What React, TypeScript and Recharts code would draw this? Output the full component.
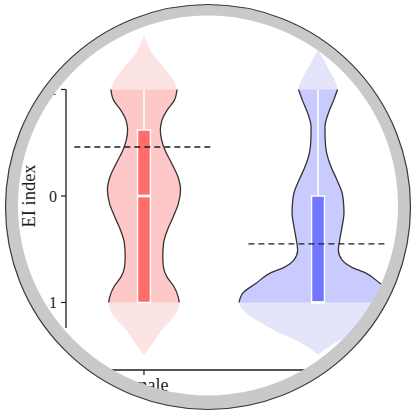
import React from 'react';
import { ComposedChart, Area, XAxis, YAxis, ReferenceLine, ReferenceArea } from 'recharts';

// Groups on the horizontal axis (positions 1 and 2)
const groups = ['female', 'male'];
const eiTicks = [-1, 0, 1];

// Violin outlines: EI index grid and kernel half-width (in group-axis units)
const femaleEI = [-1.51, -1.44, -1.34, -1.25, -1.16, -1.06, -1.0, -0.9, -0.81, -0.71, -0.62, -0.53, -0.43, -0.31, -0.18, -0.06, 0.07, 0.2, 0.32, 0.44, 0.57, 0.67, 0.76, 0.85, 0.95, 1.0, 1.07, 1.16, 1.26, 1.35, 1.42, 1.49];
const femaleHalf = [0, 0.017, 0.046, 0.092, 0.138, 0.178, 0.19, 0.175, 0.135, 0.103, 0.094, 0.101, 0.121, 0.158, 0.195, 0.21, 0.198, 0.167, 0.135, 0.113, 0.108, 0.112, 0.132, 0.172, 0.197, 0.203, 0.195, 0.158, 0.101, 0.063, 0.034, 0];
const maleEI = [-1.37, -1.28, -1.16, -1.06, -1.0, -0.9, -0.78, -0.65, -0.53, -0.4, -0.27, -0.15, -0.03, 0.1, 0.16, 0.29, 0.41, 0.51, 0.6, 0.67, 0.72, 0.82, 0.91, 1.0, 1.1, 1.19, 1.29, 1.35, 1.42, 1.49];
const maleHalf = [0, 0.032, 0.072, 0.103, 0.112, 0.09, 0.06, 0.04, 0.041, 0.05, 0.076, 0.109, 0.138, 0.148, 0.149, 0.138, 0.125, 0.117, 0.138, 0.195, 0.27, 0.356, 0.431, 0.454, 0.412, 0.326, 0.22, 0.134, 0.057, 0];

// Box plot statistics per group
const boxLower = [-0.62, 0];
const boxUpper = [1, 1];
const medians = [0, 1];
const whiskerEnd = [-1, -1];
const means = [-0.46, 0.45];

// Observed EI range (violin core is drawn only inside it)
const eiRange = [-1, 1];

const xDomain = [0.552, 2.471];
const yDomain = [-1.596, 1.634];
const yAxisLineEnd = 1.24;
const boxHalf = 0.037;

const serif = '"Liberation Serif", "DejaVu Serif", serif';
const ink = '#1c1c1c';

const palette = [
  { pale: '#fde4e4', core: '#ffc8c8', box: '#ff6d6d' },
  { pale: '#e4e5fb', core: '#c9cbff', box: '#7175ff' },
];

function violinRows(center: number, eis: number[], halves: number[], lo = -Infinity, hi = Infinity) {
  return eis
    .map((ei, i) => ({ ei, span: [center - halves[i], center + halves[i]] }))
    .filter((r) => r.ei >= lo - 1e-9 && r.ei <= hi + 1e-9);
}

const violins = [
  { eis: femaleEI, halves: femaleHalf },
  { eis: maleEI, halves: maleHalf },
];

// round frame geometry
const CX = 208;
const CY = 207;
const R_OUT = 202.5;
const CY_IN = 205.5;
const R_IN = 190;

const circlePath = (cx: number, cy: number, r: number) =>
  `M${cx - r} ${cy} a${r} ${r} 0 1 0 ${2 * r} 0 a${r} ${r} 0 1 0 ${-2 * r} 0Z`;

export default function App() {
  return (
    <div style={{ position: 'fixed', left: 0, top: 0, width: 414, height: 413, background: '#fff', overflow: 'hidden' }}>
      <ComposedChart
        width={414}
        height={413}
        layout="vertical"
        margin={{ top: 26, right: 14, bottom: 13, left: 0 }}
      >
        <XAxis
          type="number"
          domain={xDomain}
          allowDataOverflow
          ticks={[1, 2]}
          tickFormatter={(v: number) => groups[v - 1]}
          height={30}
          tickSize={5}
          tickMargin={3}
          axisLine={{ stroke: ink, strokeWidth: 1.3 }}
          tickLine={{ stroke: ink, strokeWidth: 1.2 }}
          tick={{ fill: ink, fontFamily: serif, fontSize: 18 }}
        />
        <YAxis
          type="number"
          dataKey="ei"
          domain={yDomain}
          allowDataOverflow
          ticks={eiTicks}
          width={66}
          tickSize={5}
          tickMargin={4}
          axisLine={false}
          tickLine={{ stroke: ink, strokeWidth: 1.2 }}
          tick={{ fill: ink, fontFamily: serif, fontSize: 16 }}
          label={{
            content: (props: any) => {
              const vb = props.viewBox || { x: 0, y: 26, width: 66, height: 344 };
              const x = vb.x + 35;
              const y = 196;
              return (
                <text
                  x={x}
                  y={y}
                  transform={`rotate(-90 ${x} ${y})`}
                  textAnchor="middle"
                  fill={ink}
                  fontFamily={serif}
                  fontSize={18.5}
                >
                  EI index
                </text>
              );
            },
          }}
        />

        {violins.map((v, i) => (
          <Area
            key={`pale-${i}`}
            data={violinRows(i + 1, v.eis, v.halves)}
            dataKey="span"
            type="monotone"
            stroke="none"
            fill={palette[i].pale}
            fillOpacity={1}
            dot={false}
            activeDot={false}
            isAnimationActive={false}
          />
        ))}
        {violins.map((v, i) => (
          <Area
            key={`core-${i}`}
            data={violinRows(i + 1, v.eis, v.halves, eiRange[0], eiRange[1])}
            dataKey="span"
            type="monotone"
            stroke="#333"
            strokeWidth={1.3}
            fill={palette[i].core}
            fillOpacity={1}
            dot={false}
            activeDot={false}
            isAnimationActive={false}
          />
        ))}

        {/* y axis line */}
        <ReferenceLine
          segment={[{ x: xDomain[0], y: eiRange[0] }, { x: xDomain[0], y: yAxisLineEnd }]}
          stroke={ink}
          strokeWidth={1.3}
          zIndex={1500}
        />

        {/* whiskers */}
        {groups.map((g, i) => (
          <ReferenceLine
            key={`wh-${g}`}
            segment={[{ x: i + 1, y: whiskerEnd[i] }, { x: i + 1, y: boxLower[i] }]}
            stroke="#fff"
            strokeWidth={1.6}
            zIndex={1500}
          />
        ))}
        {/* boxes */}
        {groups.map((g, i) => (
          <ReferenceArea
            key={`box-${g}`}
            x1={i + 1 - boxHalf}
            x2={i + 1 + boxHalf}
            y1={boxLower[i]}
            y2={boxUpper[i]}
            fill={palette[i].box}
            fillOpacity={1}
            stroke="#fff"
            strokeWidth={1.4}
            zIndex={1500}
          />
        ))}
        {/* medians */}
        {groups.map((g, i) => (
          <ReferenceLine
            key={`med-${g}`}
            segment={[{ x: i + 1 - boxHalf, y: medians[i] }, { x: i + 1 + boxHalf, y: medians[i] }]}
            stroke="#fff"
            strokeWidth={2.6}
            zIndex={1500}
          />
        ))}
        {/* group means */}
        {groups.map((g, i) => (
          <ReferenceLine
            key={`mean-${g}`}
            segment={[{ x: i + 1 - 0.4, y: means[i] }, { x: i + 1 + 0.39, y: means[i] }]}
            stroke={ink}
            strokeWidth={1.3}
            strokeDasharray="6 4"
            zIndex={1600}
          />
        ))}
      </ComposedChart>

      {/* round frame */}
      <svg width={414} height={413} style={{ position: 'absolute', left: 0, top: 0, pointerEvents: 'none' }}>
        <path d={`M0 0H414V413H0Z ${circlePath(CX, CY, R_OUT)}`} fill="#fff" fillRule="evenodd" />
        <path d={`${circlePath(CX, CY, R_OUT)} ${circlePath(CX, CY_IN, R_IN)}`} fill="#c9c9c9" fillRule="evenodd" />
        <circle cx={CX} cy={CY} r={R_OUT} fill="none" stroke="#3a3a3a" strokeWidth={1.2} />
      </svg>
    </div>
  );
}
